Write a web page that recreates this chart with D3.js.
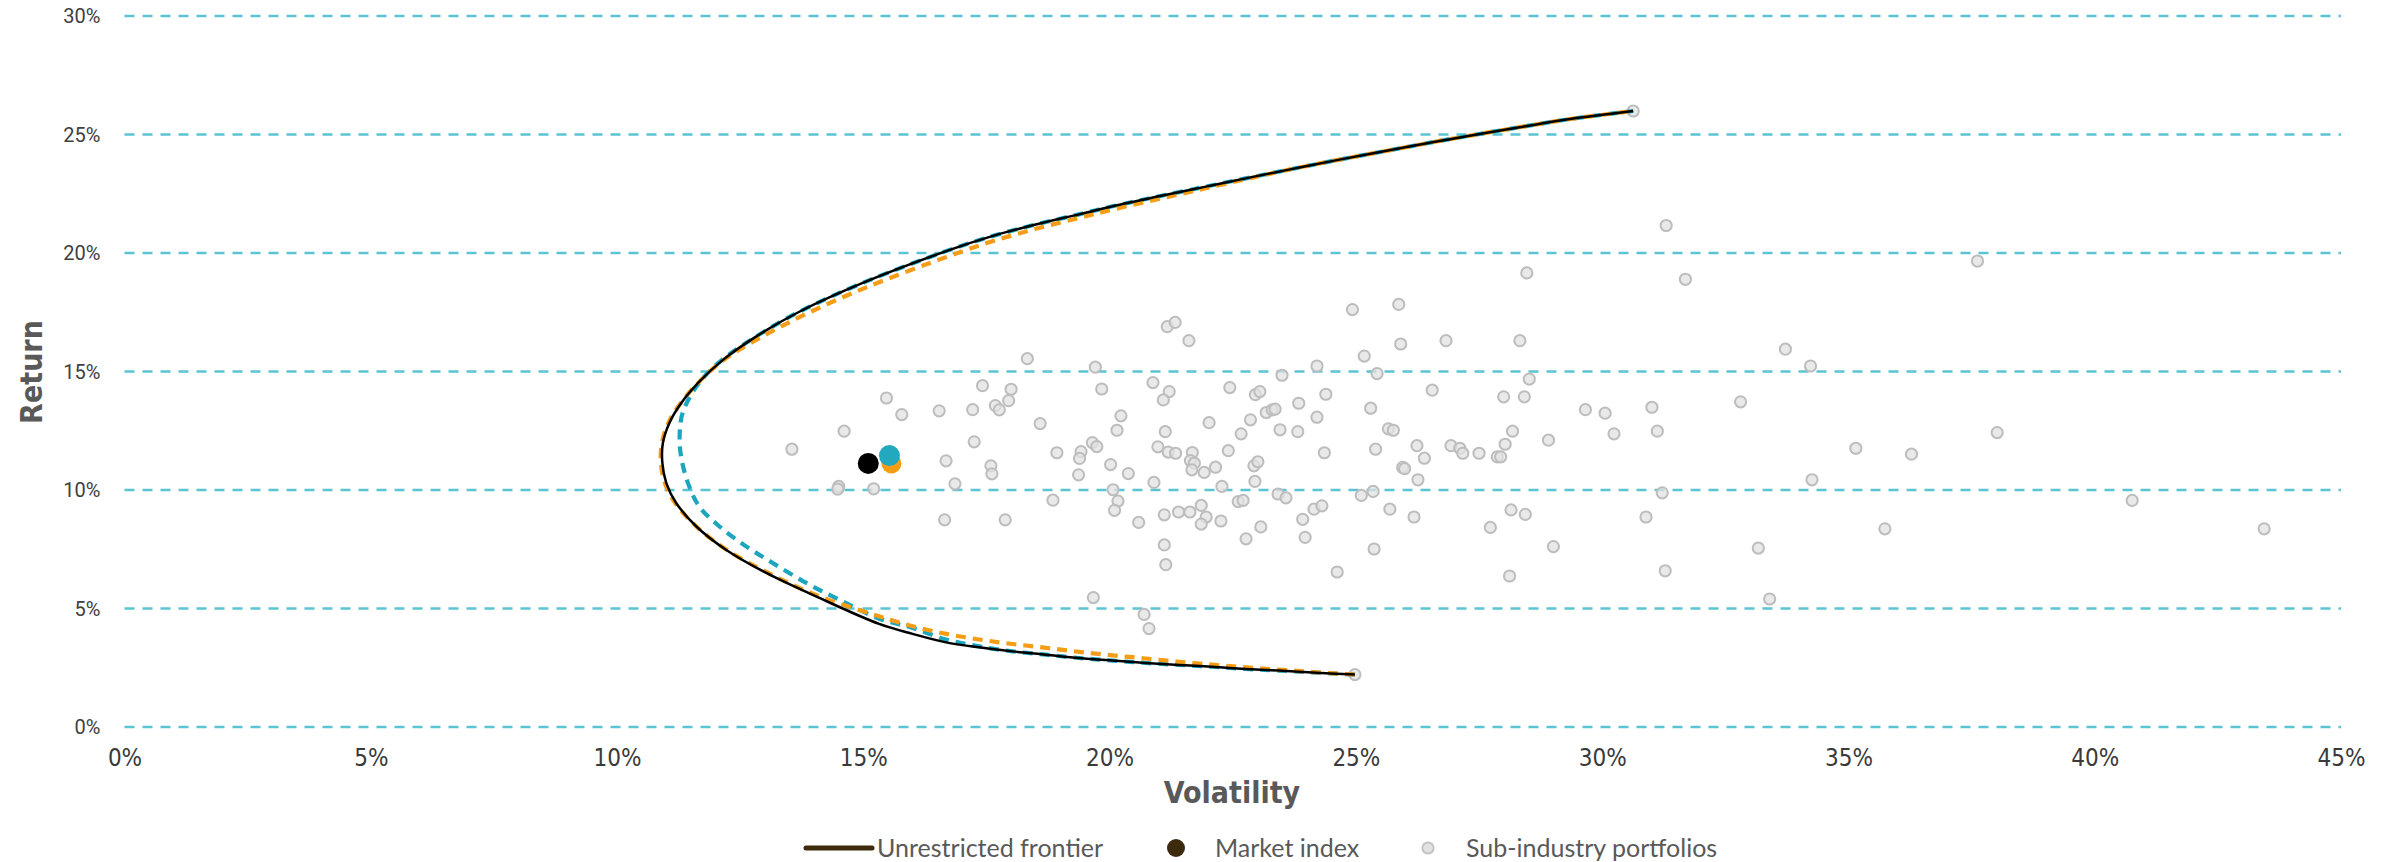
<!DOCTYPE html>
<html>
<head>
<meta charset="utf-8">
<script src="https://cdn.jsdelivr.net/npm/d3@7/dist/d3.min.js"></script>
<style>
  body { margin: 0; background: #fff; }
  svg { display: block; }
</style>
</head>
<body>
<script>
// chart data, volatility and return in %
var xTicks = [0, 5, 10, 15, 20, 25, 30, 35, 40, 45];
var yTicks = [0, 5, 10, 15, 20, 25, 30];

var legendLabels = ["Unrestricted frontier", "Market index", "Sub-industry portfolios"];

// [volatility, return]
var subIndustries = [
    [17.42,14.38],[15.47,13.86],[17.68,13.54],[17.76,13.36],[16.54,13.32],[17.22,13.37],[15.78,13.16],[14.61,12.46],
    [17.25,12.01],[13.55,11.70],[16.68,11.21],[17.59,11.00],[17.61,10.66],[16.86,10.24],[14.50,10.13],[14.48,10.02],
    [15.21,10.03],[16.65,8.72],
    [18.33,15.52],[19.71,15.16],[18.00,14.23],[19.84,14.24],[17.95,13.75],[18.59,12.78],[18.93,11.55],[19.42,11.60],
    [19.39,11.31],[19.37,10.62],[19.65,11.98],[19.74,11.81],[20.23,13.11],[20.15,12.50],[20.02,11.05],[20.38,10.67],
    [20.07,9.99],[20.17,9.51],[20.10,9.12],[18.85,9.55],[17.88,8.72],[19.67,5.44],[20.70,4.73],[20.80,4.13],
    [20.59,8.61],[20.88,14.51],[21.21,14.13],[21.09,13.78],[21.17,16.87],[21.33,17.05],[21.61,16.28],[21.13,12.44],
    [20.98,11.80],[21.19,11.58],[21.34,11.53],[21.68,11.56],[21.64,11.22],[21.72,11.11],[21.67,10.83],[21.92,10.72],
    [22.15,10.94],[20.90,10.30],[21.11,8.93],[21.40,9.05],[21.63,9.05],[21.86,9.33],[21.96,8.84],[21.86,8.54],
    [22.26,8.67],[21.11,7.66],[21.14,6.83],[22.02,12.82],[22.41,11.64],[22.28,10.13],[22.44,14.30],[22.67,12.35],
    [22.86,12.94],[22.96,14.00],[23.05,14.13],[23.18,13.25],[23.30,13.36],[23.36,13.39],[23.50,14.82],[23.46,12.52],
    [22.93,11.00],[23.01,11.17],[22.95,10.34],[22.61,9.49],[22.71,9.54],[22.77,7.92],[23.07,8.42],[23.42,9.81],
    [23.58,9.65],[23.84,13.64],[23.82,12.44],[24.21,15.21],[24.39,14.02],[24.21,13.05],[24.36,11.55],[23.92,8.74],
    [23.97,7.98],[24.15,9.17],[24.31,9.31],[24.62,6.52],[24.93,17.59],[25.17,15.63],[25.43,14.89],[25.30,13.43],
    [25.66,12.56],[25.76,12.50],[25.40,11.70],[25.11,9.75],[25.35,9.92],[25.69,9.17],[25.37,7.49],[25.87,17.81],
    [25.91,16.14],[25.95,10.93],[25.99,10.88],[26.26,10.41],[26.24,11.85],[26.18,8.84],[26.55,14.19],[26.83,16.28],
    [28.47,19.14],[28.33,16.28],[28.52,14.66],[28.00,13.91],[28.42,13.91],[28.18,12.46],[28.03,11.91],[26.93,11.85],
    [27.11,11.74],[27.17,11.53],[27.50,11.53],[27.87,11.38],[27.94,11.38],[26.39,11.32],[28.91,12.08],[29.66,13.37],
    [30.06,13.22],[30.24,12.35],[31.01,13.47],[31.12,12.46],[31.30,21.14],[31.69,18.87],[32.81,13.70],[33.72,15.92],
    [34.23,15.21],[35.15,11.74],[34.26,10.41],[31.22,9.86],[30.89,8.84],[28.15,9.14],[28.44,8.95],[27.73,8.40],
    [29.01,7.59],[28.12,6.35],[31.28,6.57],[33.17,7.53],[33.40,5.38],[35.74,8.34],
    [37.62,19.64],[38.02,12.40],[36.28,11.49],[40.76,9.54],[43.44,8.34],
    [30.63,25.97],[24.98,2.19]
];

// frontiers, from the low-return end to the high-return end
var unrestrictedFrontier = [
    [24.98,2.19],[24.11,2.28],[23.44,2.36],[22.76,2.43],[22.08,2.52],[21.41,2.60],[20.73,2.68],[20.06,2.78],
    [19.38,2.89],[18.71,3.03],[18.03,3.17],[17.35,3.34],[16.68,3.55],[16.00,3.91],[15.32,4.33],[14.04,5.49],
    [13.03,6.48],[12.21,7.46],[11.61,8.44],[11.20,9.43],[11.00,10.27],[10.92,11.11],[10.93,11.96],[11.06,12.80],
    [11.30,13.64],[11.67,14.55],[12.15,15.47],[12.82,16.45],[13.70,17.50],[15.05,18.77],[16.74,20.10],[17.60,20.68],
    [18.50,21.18],[19.40,21.62],[20.06,21.95],[21.00,22.37],[21.93,22.77],[22.86,23.17],[23.79,23.56],[24.72,23.94],
    [25.65,24.30],[26.58,24.66],[27.51,25.00],[28.45,25.33],[29.38,25.64],[30.63,25.97]
];

var orangeFrontier = [
    [24.98,2.19],[24.11,2.30],[23.44,2.40],[22.76,2.50],[22.08,2.61],[21.41,2.73],[20.73,2.87],[20.06,3.00],
    [19.38,3.15],[18.71,3.32],[18.03,3.48],[17.35,3.67],[16.68,3.91],[16.00,4.23],[15.32,4.65],[14.04,5.55],
    [13.03,6.52],[12.21,7.48],[11.61,8.44],[11.18,9.43],[10.97,10.27],[10.89,11.11],[10.91,11.96],[11.04,12.80],
    [11.29,13.64],[11.67,14.55],[12.17,15.47],[12.90,16.40],[13.85,17.42],[15.05,18.52],[16.74,19.85],[17.60,20.46],
    [18.50,21.00],[19.40,21.47],[20.06,21.81],[21.00,22.26],[21.93,22.70],[22.86,23.14],[23.79,23.56],[24.72,23.94],
    [25.65,24.30],[26.58,24.66],[27.51,25.00],[28.45,25.33],[29.38,25.64],[30.63,25.97]
];

var tealFrontier = [
    [24.98,2.19],[24.11,2.28],[23.44,2.36],[22.76,2.43],[22.08,2.52],[21.41,2.60],[20.73,2.68],[20.06,2.78],
    [19.38,2.89],[18.71,3.03],[18.03,3.17],[17.35,3.38],[16.68,3.67],[16.00,4.16],[15.32,4.55],[14.51,5.35],
    [13.84,6.06],[13.16,6.90],[12.62,7.60],[12.08,8.44],[11.67,9.28],[11.44,10.27],[11.30,11.39],[11.27,12.23],
    [11.33,13.22],[11.61,14.34],[12.05,15.33],[12.82,16.45],[13.70,17.50],[15.05,18.77],[16.74,20.10],[17.60,20.68],
    [18.50,21.18],[19.40,21.62],[20.06,21.95],[21.00,22.37],[21.93,22.77],[22.86,23.17],[23.79,23.56],[24.72,23.94],
    [25.65,24.30],[26.58,24.66],[27.51,25.00],[28.45,25.33],[29.38,25.64],[30.63,25.97]
];

var marketIndex = [15.10, 11.10];
var orangePortfolio = [15.57, 11.10];
var tealPortfolio = [15.53, 11.43];

const W = 2387, H = 862;
const gridColor = "#5cc3d3";
const tealColor = "#1ba5be";
const orangeColor = "#f59d16";
const legendBrown = "#3d2a0c";
const titleFont = "'DejaVu Sans Condensed', 'Liberation Sans Narrow', sans-serif";

var svg = d3.select("body")
            .append("svg")
            .attr("width", W)
            .attr("height", H);

var x = d3.scaleLinear()
          .domain([0, 45])
          .range([124.5, 2341]);

var y = d3.scaleLinear()
          .domain([0, 30])
          .range([726.5, 15.5]);

// horizontal dashed grid + y labels
var yAxis = d3.axisLeft(y)
              .tickValues(yTicks)
              .tickSize(-(x(45) - x(0)))
              .tickPadding(24)
              .tickFormat(function(d){ return d + "%"; });

var gy = svg.append("g")
            .attr("transform", "translate(" + x(0) + ",0)")
            .call(yAxis);

gy.select(".domain").remove();
gy.selectAll(".tick line")
  .attr("stroke", gridColor)
  .attr("stroke-width", 2.6)
  .attr("stroke-dasharray", "10,8");
gy.selectAll(".tick text")
  .attr("font-family", "Roboto, 'Open Sans', sans-serif")
  .attr("font-size", 20)
  .attr("fill", "#404040")
  .attr("dy", "0.35em");

// x labels (no axis line)
var xAxis = d3.axisBottom(x)
              .tickValues(xTicks)
              .tickSize(0)
              .tickFormat(function(d){ return d + "%"; });

var gx = svg.append("g")
            .attr("transform", "translate(0," + y(0) + ")")
            .call(xAxis);

gx.select(".domain").remove();
gx.selectAll(".tick text")
  .attr("font-family", titleFont)
  .attr("font-size", 24)
  .attr("fill", "#3a3a3a")
  .attr("y", 31)
  .attr("dy", "0.35em");

// axis titles
svg.append("text")
   .attr("x", 1232)
   .attr("y", 803)
   .attr("text-anchor", "middle")
   .attr("font-family", titleFont)
   .attr("font-weight", "bold")
   .attr("font-size", 30)
   .attr("fill", "#595959")
   .text("Volatility");

svg.append("text")
   .attr("transform", "translate(42,372) rotate(-90)")
   .attr("text-anchor", "middle")
   .attr("font-family", titleFont)
   .attr("font-weight", "bold")
   .attr("font-size", 30)
   .attr("fill", "#595959")
   .text("Return");

// sub-industry portfolios
svg.append("g")
   .selectAll("circle")
   .data(subIndustries)
   .enter()
   .append("circle")
   .attr("cx", function(d){ return x(d[0]); })
   .attr("cy", function(d){ return y(d[1]); })
   .attr("r", 5.6)
   .attr("fill", "#e2e2e2")
   .attr("fill-opacity", 0.75)
   .attr("stroke", "#bdbdbd")
   .attr("stroke-width", 2);

// frontiers
var line = d3.line()
             .x(function(d){ return x(d[0]); })
             .y(function(d){ return y(d[1]); })
             .curve(d3.curveCatmullRom.alpha(0.5));

svg.append("path")
   .datum(tealFrontier)
   .attr("d", line)
   .attr("fill", "none")
   .attr("stroke", tealColor)
   .attr("stroke-width", 4.2)
   .attr("stroke-dasharray", "10,7");

svg.append("path")
   .datum(orangeFrontier)
   .attr("d", line)
   .attr("fill", "none")
   .attr("stroke", orangeColor)
   .attr("stroke-width", 4.2)
   .attr("stroke-dasharray", "10,7");

svg.append("path")
   .datum(unrestrictedFrontier)
   .attr("d", line)
   .attr("fill", "none")
   .attr("stroke", "#000")
   .attr("stroke-width", 2.5);

// portfolios
svg.append("circle")
   .attr("cx", x(orangePortfolio[0]))
   .attr("cy", y(orangePortfolio[1]))
   .attr("r", 10)
   .attr("fill", orangeColor);

svg.append("circle")
   .attr("cx", x(tealPortfolio[0]))
   .attr("cy", y(tealPortfolio[1]))
   .attr("r", 10.5)
   .attr("fill", "#22a9c0");

svg.append("circle")
   .attr("cx", x(marketIndex[0]))
   .attr("cy", y(marketIndex[1]))
   .attr("r", 10.5)
   .attr("fill", "#000");

// legend
var legendY = 848;
var legendFont = "Lato, 'Open Sans', sans-serif";
var lg = svg.append("g");

lg.append("line")
  .attr("x1", 806).attr("x2", 872)
  .attr("y1", legendY).attr("y2", legendY)
  .attr("stroke", legendBrown)
  .attr("stroke-width", 5)
  .attr("stroke-linecap", "round");

lg.append("circle")
  .attr("cx", 1176).attr("cy", legendY)
  .attr("r", 9)
  .attr("fill", legendBrown);

lg.append("circle")
  .attr("cx", 1428).attr("cy", legendY)
  .attr("r", 5.6)
  .attr("fill", "#e2e2e2")
  .attr("stroke", "#c4c4c4")
  .attr("stroke-width", 2);

var legendX = [877, 1215, 1466];
lg.selectAll("text")
  .data(legendLabels)
  .enter()
  .append("text")
  .attr("x", function(d, i){ return legendX[i]; })
  .attr("y", legendY)
  .attr("dy", "0.35em")
  .attr("font-family", legendFont)
  .attr("font-size", 25)
  .attr("fill", "#595959")
  .text(function(d){ return d; });
</script>
</body>
</html>
